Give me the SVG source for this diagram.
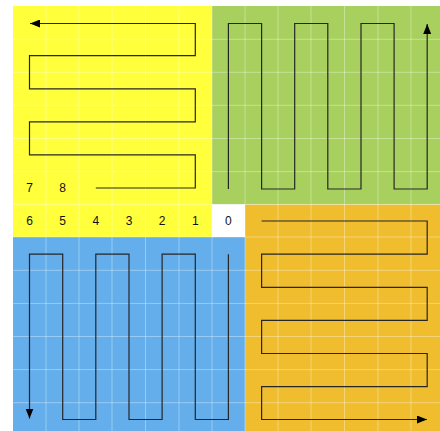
<svg xmlns="http://www.w3.org/2000/svg" width="440" height="431" viewBox="0 0 440 431">
<style>
.lbl{font-family:"Liberation Sans","Open Sans",Arial,sans-serif;font-size:12px;fill:#111;text-anchor:middle;dominant-baseline:central}
.path{fill:none;stroke:#262626;stroke-width:1.2;stroke-linejoin:miter}
.grid{stroke:#ffffff;stroke-opacity:0.35;stroke-width:1}
</style>
<defs>
<marker id="arr" viewBox="0 0 10 8" refX="10" refY="4" markerWidth="10" markerHeight="8" markerUnits="userSpaceOnUse" orient="auto">
<path d="M0,0 L10,4 L0,8 Z" fill="#000"/>
</marker>
</defs>
<rect width="440" height="431" fill="#fff"/>
<g id="yellow"><path d="M13,6 H212 V237 H13 Z" fill="#FFFF3C"/></g>
<g id="green"><rect x="212" y="6" width="228" height="198.5" fill="#A8D05E"/></g>
<g id="origin"><rect x="212" y="204.5" width="33" height="33" fill="#fff"/></g>
<g id="orange"><rect x="245" y="204.5" width="195" height="226.5" fill="#EFBD2E"/></g>
<g id="blue"><rect x="13" y="237" width="232" height="194" fill="#63AEEB"/></g>
<g id="grid" class="grid">
<path d="M46,6V431M79,6V431M112,6V431M145.5,6V431M179,6V431M212,6V431M245,6V431M278,6V431M311,6V431M344.5,6V431M378,6V431M411,6V431"/>
<path d="M13,39.3H440M13,72.3H440M13,105.3H440M13,138.5H440M13,171.6H440M13,204.5H440M13,237H440M13,270.3H440M13,303.4H440M13,336.5H440M13,369.6H440M13,402.7H440"/>
</g>
<g id="labels">
<text class="lbl" x="29.5" y="188">7</text>
<text class="lbl" x="62.7" y="188">8</text>
<text class="lbl" x="29.5" y="221">6</text>
<text class="lbl" x="62.7" y="221">5</text>
<text class="lbl" x="95.8" y="221">4</text>
<text class="lbl" x="129" y="221">3</text>
<text class="lbl" x="162.1" y="221">2</text>
<text class="lbl" x="195.3" y="221">1</text>
<text class="lbl" x="228.4" y="221">0</text>
</g>
<g id="connectors">
<path class="path" marker-end="url(#arr)" d="M95.8,188 H195.3 V154.8 H29.5 V121.8 H195.3 V88.8 H29.5 V55.6 H195.3 V23.5 H30"/>
<path class="path" marker-end="url(#arr)" d="M228.4,189 V23.5 H261.6 V189 H294.7 V23.5 H327.8 V189 H361 V23.5 H394.1 V189 H427.2 V24"/>
<path class="path" marker-end="url(#arr)" d="M228.4,254.2 V419.5 H195.3 V254.2 H162.1 V419.5 H129 V254.2 H95.8 V419.5 H62.7 V254.2 H29.5 V418.5"/>
<path class="path" marker-end="url(#arr)" d="M261.6,221 H427.2 V254.2 H261.6 V287.3 H427.2 V320.4 H261.6 V353.5 H427.2 V386.6 H261.6 V419.5 H427"/>
</g>
</svg>
